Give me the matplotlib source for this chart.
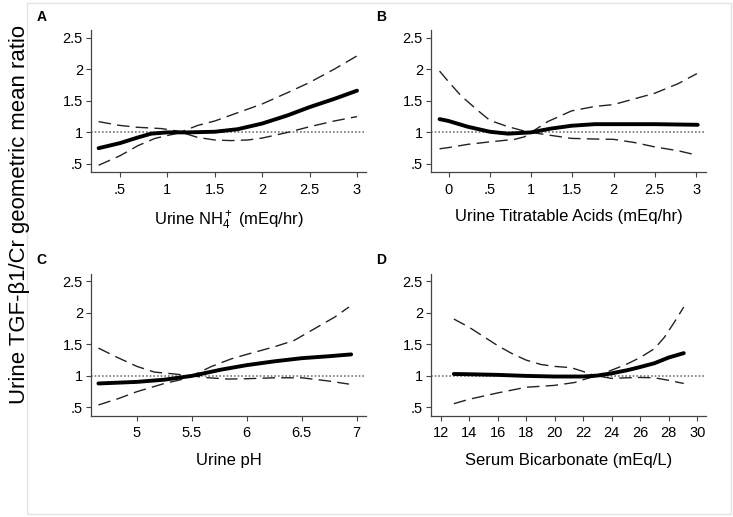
import numpy as np
import matplotlib
matplotlib.use("Agg")
import matplotlib.pyplot as plt
from matplotlib.patches import Rectangle

plt.rcParams['font.family'] = ['Liberation Sans', 'DejaVu Sans']
plt.rcParams['mathtext.fontset'] = 'custom'
plt.rcParams['mathtext.rm'] = 'Liberation Sans'
plt.rcParams['mathtext.it'] = 'Liberation Sans:italic'
plt.rcParams['mathtext.default'] = 'regular'

# panel A: urine NH4+
a_x = [0.275, 0.5, 0.69, 0.83, 1.0, 1.22, 1.5, 1.74, 2.0, 2.27, 2.5, 2.76, 3.0]
a_est = [0.75, 0.83, 0.92, 0.98, 1.0, 1.0, 1.01, 1.05, 1.14, 1.27, 1.40, 1.53, 1.66]
a_up_x = [0.275, 0.5, 0.69, 0.94, 1.15, 1.32, 1.5, 1.74, 2.0, 2.27, 2.5, 2.76, 3.0]
a_up = [1.17, 1.11, 1.08, 1.06, 1.01, 1.11, 1.18, 1.31, 1.45, 1.63, 1.79, 2.0, 2.21]
a_lo_x = [0.275, 0.5, 0.69, 0.87, 1.0, 1.15, 1.32, 1.5, 1.67, 1.85, 2.0, 2.27, 2.5, 2.76, 3.0]
a_lo = [0.48, 0.63, 0.79, 0.905, 0.95, 1.0, 0.92, 0.88, 0.87, 0.88, 0.91, 1.0, 1.09, 1.18, 1.25]

# panel B: titratable acids
b_x = [-0.11, 0.0, 0.23, 0.5, 0.72, 1.0, 1.24, 1.49, 1.77, 2.0, 2.5, 3.02]
b_est = [1.21, 1.18, 1.09, 1.01, 0.98, 1.0, 1.06, 1.105, 1.13, 1.13, 1.13, 1.12]
b_up_x = [-0.11, 0.0, 0.15, 0.36, 0.5, 0.72, 0.92, 1.0, 1.2, 1.49, 1.77, 2.0, 2.25, 2.5, 2.78, 3.01]
b_up = [1.97, 1.8, 1.58, 1.34, 1.19, 1.09, 1.02, 1.0, 1.17, 1.34, 1.41, 1.44, 1.53, 1.62, 1.77, 1.93]
b_lo_x = [-0.11, 0.0, 0.23, 0.5, 0.8, 0.92, 1.0, 1.2, 1.49, 1.77, 2.0, 2.25, 2.5, 2.78, 3.01]
b_lo = [0.74, 0.76, 0.81, 0.85, 0.89, 0.93, 1.0, 0.96, 0.905, 0.895, 0.89, 0.84, 0.77, 0.71, 0.64]

# panel C: urine pH
c_x = [4.65, 5.0, 5.25, 5.5, 5.77, 6.0, 6.25, 6.5, 6.74, 6.95]
c_est = [0.88, 0.905, 0.94, 1.0, 1.10, 1.17, 1.23, 1.28, 1.31, 1.34]
c_up_x = [4.65, 4.8, 5.0, 5.16, 5.34, 5.5, 5.68, 5.86, 6.0, 6.25, 6.43, 6.62, 6.8, 6.93]
c_up = [1.44, 1.31, 1.15, 1.06, 1.03, 1.0, 1.15, 1.27, 1.34, 1.46, 1.56, 1.75, 1.93, 2.09]
c_lo_x = [4.65, 4.83, 5.0, 5.25, 5.4, 5.5, 5.65, 5.83, 6.0, 6.25, 6.5, 6.74, 6.93]
c_lo = [0.54, 0.64, 0.75, 0.88, 0.94, 1.0, 0.97, 0.95, 0.955, 0.97, 0.97, 0.92, 0.87]

# panel D: serum bicarbonate
d_x = [12.93, 14, 16, 18, 20, 22, 23, 24, 25.1, 26, 27, 28, 29.06]
d_est = [1.03, 1.026, 1.016, 1.0, 0.99, 0.99, 1.005, 1.04, 1.09, 1.14, 1.2, 1.29, 1.36]
d_up_x = [12.93, 14, 15.1, 16, 16.95, 18, 19.05, 20, 21.16, 22, 22.9, 24, 25.1, 26, 27, 27.7, 28.4, 29.06]
d_up = [1.90, 1.77, 1.61, 1.48, 1.36, 1.25, 1.18, 1.15, 1.13, 1.07, 1.0, 1.09, 1.19, 1.29, 1.43, 1.61, 1.85, 2.09]
d_lo_x = [12.93, 14, 16, 18, 20, 21.4, 22.3, 23, 24, 25.1, 26, 27, 28, 29.06]
d_lo = [0.56, 0.63, 0.73, 0.82, 0.85, 0.895, 0.96, 1.0, 0.96, 0.97, 0.975, 0.97, 0.93, 0.88]

y_ticks = [0.5, 1, 1.5, 2, 2.5]
y_labels = ['.5', '1', '1.5', '2', '2.5']

panels = [
    ('A', 'Urine NH$_4^+$ (mEq/hr)', a_x, a_est, a_up_x, a_up, a_lo_x, a_lo,
     [0.5, 1, 1.5, 2, 2.5, 3], ['.5', '1', '1.5', '2', '2.5', '3'], (0.198, 3.095)),
    ('B', 'Urine Titratable Acids (mEq/hr)', b_x, b_est, b_up_x, b_up, b_lo_x, b_lo,
     [0, 0.5, 1, 1.5, 2, 2.5, 3], ['0', '.5', '1', '1.5', '2', '2.5', '3'], (-0.21, 3.12)),
    ('C', 'Urine pH', c_x, c_est, c_up_x, c_up, c_lo_x, c_lo,
     [5, 5.5, 6, 6.5, 7], ['5', '5.5', '6', '6.5', '7'], (4.585, 7.085)),
    ('D', 'Serum Bicarbonate (mEq/L)', d_x, d_est, d_up_x, d_up, d_lo_x, d_lo,
     list(range(12, 31, 2)), [str(v) for v in range(12, 31, 2)], (11.35, 30.62)),
]

W, H = 733, 517
fig = plt.figure(figsize=(W / 100, H / 100), dpi=100)
fig.patches.append(Rectangle((27 / W, 1 - 514 / H), 704 / W, 511 / H,
                             transform=fig.transFigure, fill=False,
                             edgecolor='#e4e4e4', linewidth=1))

# axes boxes in pixels: left, top
boxes = [(91.3, 30), (431.3, 30), (91.3, 273.5), (431.3, 273.5)]
aw, ah = 274.7, 142.2

for (letter, xlab, x, est, ux, up, lx, lo, xt, xtl, xlim), (l, t) in zip(panels, boxes):
    ax = fig.add_axes([l / W, 1 - (t + ah) / H, aw / W, ah / H])
    ax.axhline(1, color='#777777', linestyle=(0, (1, 1.2)), linewidth=1.2)
    ax.plot(ux, up, color='#222222', linestyle=(0, (9, 4.5)), linewidth=1.0)
    ax.plot(lx, lo, color='#222222', linestyle=(0, (9, 4.5)), linewidth=1.0)
    ax.plot(x, est, color='black', linewidth=2.8, solid_capstyle='round')
    ax.set_xlim(*xlim)
    ax.set_ylim(0.37, 2.62)
    ax.set_yticks(y_ticks)
    ax.set_yticklabels(y_labels)
    ax.set_xticks(xt)
    ax.set_xticklabels(xtl)
    for s in ['top', 'right']:
        ax.spines[s].set_visible(False)
    for s in ['left', 'bottom']:
        ax.spines[s].set_color('#444444')
        ax.spines[s].set_linewidth(0.9)
    ax.tick_params(axis='both', direction='out', length=3.5, width=0.8,
                   color='#444444', labelsize=10.5, pad=2.5)
    ax.tick_params(axis='x', pad=4)
    ax.set_xlabel(xlab, fontsize=12, labelpad=9)
    fig.text((l - 55) / W, 1 - (t - 13) / H, letter, fontsize=10,
             fontweight='bold', ha='left', va='center')

ylab = fig.text(20 / W, 1 - 214 / H, 'Urine TGF-β1/Cr geometric mean ratio',
                rotation=90, fontsize=16, ha='center', va='center')
# fit the long label to the height it takes in the reference (about 380 px)
fig.canvas.draw()
ext = ylab.get_window_extent()
ylab.set_fontsize(16 * 380 / ext.height)

fig.savefig('out.png', dpi=100)
